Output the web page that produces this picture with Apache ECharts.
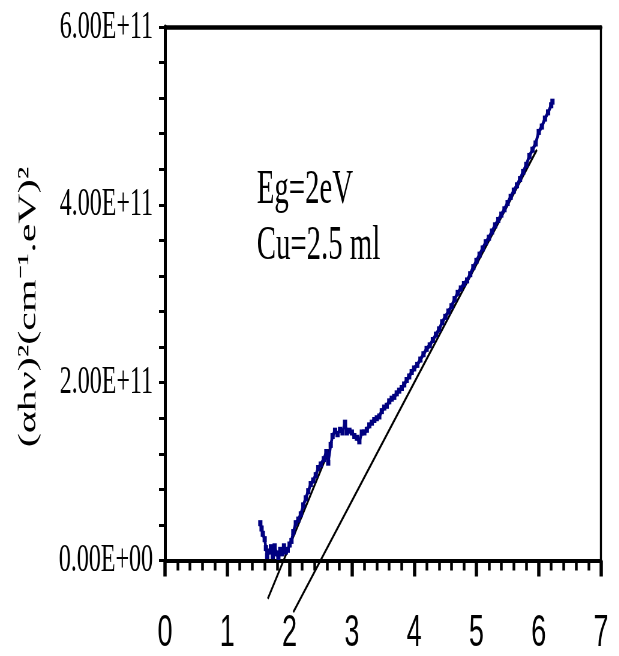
<!DOCTYPE html>
<html>
<head>
<meta charset="utf-8">
<script src="https://cdn.jsdelivr.net/npm/echarts@6/dist/echarts.min.js"></script>
<style>
  html, body { margin: 0; padding: 0; background: #fff; overflow: hidden; }
  #frame { width: 619px; height: 656px; overflow: hidden; position: relative; }
  /* the plot is laid out wide and squeezed horizontally, giving tall narrow lettering */
  #chart { width: 1032px; height: 656px; transform: scaleX(0.6); transform-origin: 0 0; }
</style>
</head>
<body>
<div id="frame"><div id="chart"></div></div>
<script>
// Tick labels
const xTickLabels = ['0', '1', '2', '3', '4', '5', '6', '7'];
const yTickLabels = ['0.00E+00', '2.00E+11', '4.00E+11', '6.00E+11'];

// Measured curve: photon energy hv (eV) and (alpha*h*v)^2 in units of 1E+11
const photonEnergy = [
  1.53, 1.55, 1.57, 1.60, 1.62, 1.64, 1.67, 1.70, 1.73, 1.76, 1.79, 1.82, 1.85, 1.88, 1.91, 1.94,
  1.97, 2.00, 2.03, 2.06, 2.10, 2.14, 2.18, 2.22, 2.26, 2.30, 2.34, 2.38, 2.42, 2.46, 2.50, 2.55,
  2.59, 2.62, 2.66, 2.69, 2.73, 2.77, 2.81, 2.85, 2.89, 2.92, 2.96, 3.00, 3.04, 3.08, 3.12, 3.16,
  3.20, 3.24, 3.28, 3.32, 3.36, 3.40, 3.44, 3.48, 3.52, 3.56, 3.60, 3.64, 3.68, 3.72, 3.76, 3.80,
  3.84, 3.88, 3.92, 3.96, 4.00, 4.05, 4.10, 4.15, 4.20, 4.25, 4.30, 4.35, 4.40, 4.45, 4.50, 4.55,
  4.60, 4.65, 4.70, 4.75, 4.80, 4.85, 4.90, 4.95, 5.00, 5.05, 5.10, 5.15, 5.20, 5.25, 5.30, 5.35,
  5.40, 5.45, 5.50, 5.55, 5.60, 5.65, 5.70, 5.75, 5.80, 5.85, 5.90, 5.95, 6.00, 6.05, 6.10, 6.15,
  6.20, 6.22
];
const absorptionSq = [
  0.42, 0.36, 0.30, 0.24, 0.14, 0.05, 0.10, 0.15, 0.05, 0.16, 0.08, 0.04, 0.12, 0.08, 0.16, 0.10,
  0.12, 0.18, 0.22, 0.32, 0.42, 0.46, 0.52, 0.62, 0.70, 0.78, 0.86, 0.90, 0.96, 1.04, 1.08, 1.14,
  1.22, 1.10, 1.30, 1.40, 1.46, 1.42, 1.47, 1.44, 1.55, 1.44, 1.46, 1.44, 1.40, 1.38, 1.34, 1.44,
  1.44, 1.47, 1.52, 1.55, 1.58, 1.60, 1.62, 1.68, 1.72, 1.74, 1.79, 1.82, 1.84, 1.88, 1.91, 1.94,
  1.98, 2.03, 2.07, 2.12, 2.16, 2.20, 2.26, 2.32, 2.38, 2.42, 2.48, 2.54, 2.60, 2.68, 2.74, 2.80,
  2.86, 2.94, 3.01, 3.06, 3.11, 3.15, 3.22, 3.30, 3.37, 3.44, 3.51, 3.58, 3.63, 3.70, 3.77, 3.83,
  3.89, 3.95, 4.02, 4.09, 4.16, 4.22, 4.29, 4.37, 4.45, 4.55, 4.62, 4.69, 4.82, 4.88, 4.97, 5.04,
  5.12, 5.16
];

// Straight-line extrapolations (same units)
const fitLowX = [1.65, 2.68];
const fitLowY = [-0.43, 1.32];
const fitHighX = [2.06, 5.97];
const fitHighY = [-0.58, 4.62];

const UNIT = 1e11;
const pairs = (xs, ys) => xs.map((x, i) => [x, ys[i] * UNIT]);

const chart = echarts.init(document.getElementById('chart'), null, { renderer: 'canvas' });

const hiddenAxis = { show: true, axisTick: { show: false }, axisLabel: { show: false }, splitLine: { show: false } };

chart.setOption({
  animation: false,
  backgroundColor: '#ffffff',
  grid: { left: 275, right: 30.3, top: 27, bottom: 91, containLabel: false },
  xAxis: [
    {
      type: 'value', min: 0, max: 7, interval: 1,
      axisLine: { onZero: false, lineStyle: { color: '#000', width: 4 } },
      axisTick: { show: true, inside: false, length: 16, lineStyle: { color: '#000', width: 5.5 } },
      minorTick: { show: true, splitNumber: 5, length: 10, lineStyle: { color: '#000', width: 4.5 } },
      splitLine: { show: false },
      axisLabel: {
        margin: 73, verticalAlign: 'middle',
        fontFamily: 'Liberation Sans, Arial, sans-serif', fontSize: 45, color: '#000',
        formatter: v => xTickLabels[Math.round(v)]
      }
    },
    Object.assign({ type: 'value', min: 0, max: 7, position: 'top',
      axisLine: { onZero: false, lineStyle: { color: '#000', width: 4.5 } } }, hiddenAxis)
  ],
  yAxis: [
    {
      type: 'value', min: 0, max: 6 * UNIT, interval: 2 * UNIT,
      axisLine: { onZero: false, lineStyle: { color: '#000', width: 5 } },
      axisTick: { show: true, inside: false, length: 10, lineStyle: { color: '#000', width: 3 } },
      minorTick: { show: true, splitNumber: 5, length: 10, lineStyle: { color: '#000', width: 3 } },
      splitLine: { show: false },
      axisLabel: {
        margin: 20,
        fontFamily: 'Liberation Serif, serif', fontSize: 40, color: '#000',
        formatter: v => yTickLabels[Math.round(v / (2 * UNIT))]
      }
    },
    Object.assign({ type: 'value', min: 0, max: 6 * UNIT, position: 'right',
      axisLine: { onZero: false, lineStyle: { color: '#000', width: 3.4 } } }, hiddenAxis)
  ],
  graphic: [
    {
      type: 'text', x: 48, y: 307, rotation: Math.PI / 2,
      style: {
        text: '(αhν)²(cm⁻¹.eV)²', fill: '#000', align: 'center', verticalAlign: 'middle',
        font: '42px "Liberation Serif", serif'
      }
    },
    {
      type: 'text', x: 428, y: 166,
      style: { text: 'Eg=2eV', fill: '#000', align: 'left', verticalAlign: 'top',
        font: '48px "Liberation Serif", serif' }
    },
    {
      type: 'text', x: 428, y: 222,
      style: { text: 'Cu=2.5 ml', fill: '#000', align: 'left', verticalAlign: 'top',
        font: '48px "Liberation Serif", serif' }
    }
  ],
  series: [
    {
      name: 'fitLow', type: 'line', clip: false, symbol: 'none',
      data: pairs(fitLowX, fitLowY),
      lineStyle: { color: '#000', width: 2.8 }, z: 2
    },
    {
      name: 'fitHigh', type: 'line', clip: false, symbol: 'none',
      data: pairs(fitHighX, fitHighY),
      lineStyle: { color: '#000', width: 2.8 }, z: 2
    },
    {
      name: 'measured', type: 'line', clip: false,
      symbol: 'rect', symbolSize: [7, 6], showAllSymbol: true,
      itemStyle: { color: '#000080' },
      data: pairs(photonEnergy, absorptionSq),
      lineStyle: { color: '#000080', width: 4.5 }, z: 3
    }
  ]
});
</script>
</body>
</html>
